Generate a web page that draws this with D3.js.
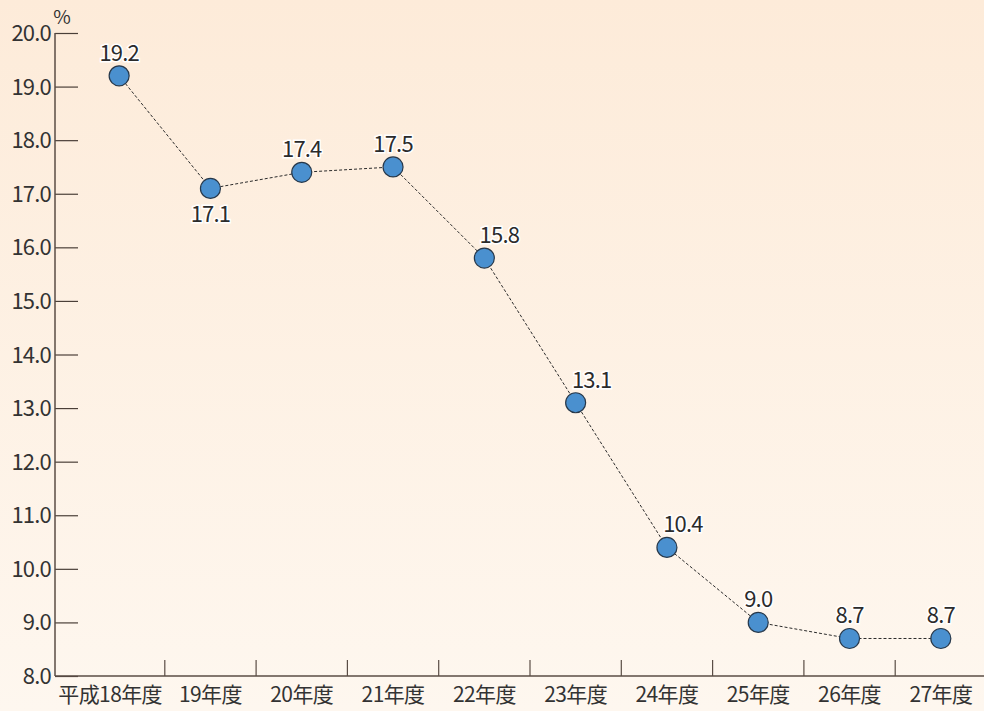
<!DOCTYPE html>
<html>
<head>
  <meta charset="utf-8" />
  <title>Chart</title>
  <style>
    body { margin: 0; }
    svg text { font-family: "Noto Sans CJK JP", "Noto Sans", sans-serif; fill: #333; }
  </style>
  <script src="https://cdnjs.cloudflare.com/ajax/libs/d3/7.8.5/d3.min.js"></script>
</head>
<body>
  <div id="chartArea"></div>
  <script>
    var categories = ['平成18年度', '19年度', '20年度', '21年度', '22年度', '23年度', '24年度', '25年度', '26年度', '27年度'];
    var values = [19.2, 17.1, 17.4, 17.5, 15.8, 13.1, 10.4, 9.0, 8.7, 8.7];
    var yTicks = [8, 9, 10, 11, 12, 13, 14, 15, 16, 17, 18, 19, 20];
    // label placement: 'below' or horizontal shift
    var labelBelow = [false, true, false, false, false, false, false, false, false, false];
    var labelShift = [0, 0, 0, 0, 15, 16, 16, 0, 0, 0];

    var w = 984, h = 711;
    var marginLeft = 55, plotTop = 33, plotBottom = 676;

    var svg = d3.select('#chartArea').append('svg')
      .attr('width', w)
      .attr('height', h);

    var grad = svg.append('defs').append('linearGradient')
      .attr('id', 'bg').attr('x1', 0).attr('y1', 0).attr('x2', 0).attr('y2', 1);
    grad.append('stop').attr('offset', '0%').attr('stop-color', '#fdebd9');
    grad.append('stop').attr('offset', '100%').attr('stop-color', '#fef7ef');
    svg.append('rect').attr('width', w).attr('height', h).attr('fill', 'url(#bg)');

    var xScale = d3.scaleBand()
      .domain(categories)
      .range([73.5, 986.5]);
    var bw = xScale.bandwidth();
    var cx = d => xScale(d) + bw / 2;

    var yScale = d3.scaleLinear()
      .domain([8, 20])
      .range([plotBottom, plotTop]);

    // y axis
    var yAxis = d3.axisRight(yScale)
      .tickValues(yTicks)
      .tickSize(23)
      .tickFormat('');
    var gy = svg.append('g').attr('transform', 'translate(' + marginLeft + ',0)').call(yAxis);
    gy.select('.domain').remove();
    gy.selectAll('line').attr('stroke', '#4a3f38').attr('stroke-width', 1.2);
    svg.append('line')
      .attr('x1', marginLeft).attr('x2', marginLeft).attr('y1', plotTop).attr('y2', plotBottom)
      .attr('stroke', '#5a4d45').attr('stroke-width', 1.5);

    svg.selectAll('.ylab')
      .data(yTicks)
      .enter().append('text')
      .attr('class', 'ylab')
      .attr('x', marginLeft - 4)
      .attr('y', d => yScale(d) + 8)
      .attr('text-anchor', 'end')
      .attr('font-size', 22)
      .attr('letter-spacing', -0.8)
      .text(d => d.toFixed(1));

    svg.append('text')
      .attr('x', marginLeft + 7).attr('y', plotTop - 9)
      .attr('text-anchor', 'middle')
      .attr('font-size', 19)
      .text('%');

    // x axis
    svg.append('line')
      .attr('x1', marginLeft).attr('x2', w).attr('y1', plotBottom).attr('y2', plotBottom)
      .attr('stroke', '#5a4d45').attr('stroke-width', 1.5);

    svg.selectAll('.xtick')
      .data(categories.slice(1))
      .enter().append('line')
      .attr('class', 'xtick')
      .attr('x1', d => xScale(d)).attr('x2', d => xScale(d))
      .attr('y1', plotBottom - 16).attr('y2', plotBottom)
      .attr('stroke', '#5a4d45').attr('stroke-width', 1.2);

    svg.selectAll('.xlab')
      .data(categories)
      .enter().append('text')
      .attr('class', 'xlab')
      .attr('x', (d, i) => cx(d) - (i === 0 ? 9 : 0))
      .attr('y', plotBottom + 26)
      .attr('text-anchor', 'middle')
      .attr('font-size', 21)
      .attr('letter-spacing', -0.6)
      .text(d => d);

    // line
    var line = d3.line()
      .x((d, i) => cx(categories[i]))
      .y(d => yScale(d));
    svg.append('path')
      .datum(values)
      .attr('d', line)
      .attr('fill', 'none')
      .attr('stroke', '#2b2b2b')
      .attr('stroke-width', 1)
      .attr('stroke-dasharray', '3,2');

    svg.selectAll('circle')
      .data(values)
      .enter().append('circle')
      .attr('cx', (d, i) => cx(categories[i]))
      .attr('cy', d => yScale(d))
      .attr('r', 10)
      .attr('fill', '#4a90cf')
      .attr('stroke', '#27384a')
      .attr('stroke-width', 1.2);

    svg.selectAll('.vlab')
      .data(values)
      .enter().append('text')
      .attr('class', 'vlab')
      .attr('x', (d, i) => cx(categories[i]) + labelShift[i])
      .attr('y', (d, i) => yScale(d) + (labelBelow[i] ? 34 : -15))
      .attr('text-anchor', 'middle')
      .attr('font-size', 22)
      .attr('letter-spacing', -0.8)
      .attr('stroke', '#fff')
      .attr('stroke-width', 3)
      .attr('paint-order', 'stroke')
      .style('fill', '#2b2b2b')
      .text(d => d.toFixed(1));
  </script>
</body>
</html>
